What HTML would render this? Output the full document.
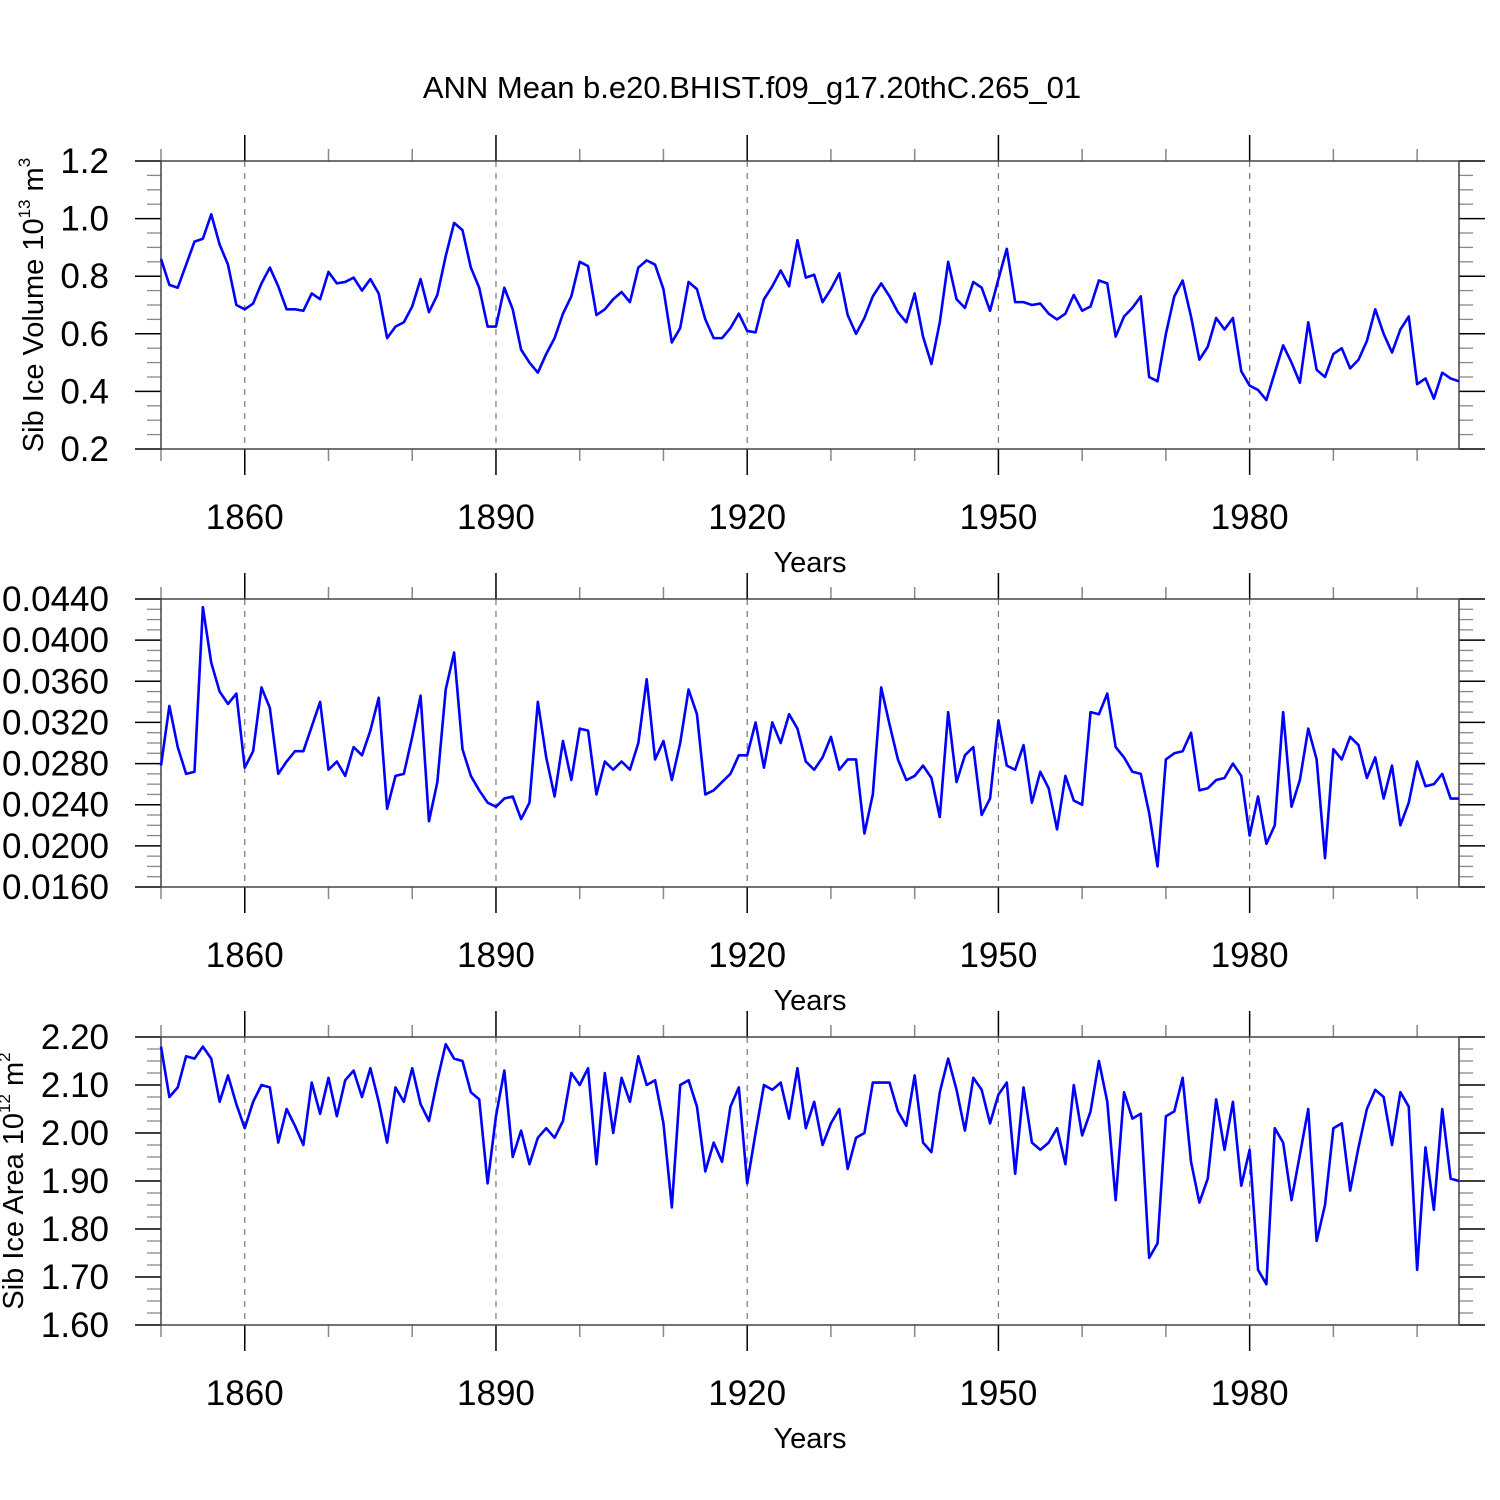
<!DOCTYPE html>
<html><head><meta charset="utf-8"><style>
html,body{margin:0;padding:0;background:#fff;}
svg{display:block;font-family:"Liberation Sans",Arial,sans-serif;}
</style></head><body>
<svg id="chart" width="1500" height="1500" viewBox="0 0 1500 1500" xmlns="http://www.w3.org/2000/svg">
<text x="752" y="98" font-size="31" text-anchor="middle">ANN Mean b.e20.BHIST.f09_g17.20thC.265_01</text>
</svg>
<script>
const years = [];
for (let y = 1850; y <= 2005; y++) years.push(y);
const volumeValues = [0.86,0.77,0.76,0.84,0.92,0.93,1.015,0.91,0.84,0.70,0.685,0.705,0.775,0.83,0.765,0.685,0.685,0.68,0.74,0.72,0.815,0.775,0.78,0.795,0.75,0.79,0.74,0.585,0.625,0.64,0.695,0.79,0.675,0.735,0.87,0.985,0.96,0.83,0.76,0.625,0.625,0.76,0.685,0.545,0.5,0.465,0.53,0.585,0.67,0.73,0.85,0.835,0.665,0.685,0.72,0.745,0.71,0.83,0.855,0.84,0.755,0.57,0.62,0.78,0.755,0.65,0.585,0.585,0.62,0.67,0.61,0.605,0.72,0.765,0.82,0.765,0.925,0.795,0.805,0.71,0.755,0.81,0.665,0.6,0.655,0.73,0.775,0.73,0.675,0.64,0.74,0.59,0.495,0.64,0.85,0.72,0.69,0.78,0.76,0.68,0.79,0.895,0.71,0.71,0.70,0.705,0.67,0.65,0.67,0.735,0.68,0.695,0.785,0.775,0.59,0.66,0.69,0.73,0.45,0.435,0.6,0.73,0.785,0.66,0.51,0.555,0.655,0.615,0.655,0.47,0.42,0.405,0.37,0.465,0.56,0.5,0.43,0.64,0.475,0.45,0.53,0.55,0.48,0.51,0.575,0.685,0.6,0.535,0.615,0.66,0.425,0.445,0.375,0.465,0.445,0.435];
const thickValues = [0.0278,0.0336,0.0296,0.0270,0.0272,0.0432,0.0378,0.0350,0.0338,0.0348,0.0276,0.0292,0.0354,0.0334,0.0270,0.0282,0.0292,0.0292,0.0316,0.0340,0.0274,0.0282,0.0268,0.0296,0.0288,0.0312,0.0344,0.0236,0.0268,0.0270,0.0306,0.0346,0.0224,0.0262,0.0352,0.0388,0.0294,0.0268,0.0254,0.0242,0.0238,0.0246,0.0248,0.0226,0.0242,0.0340,0.0286,0.0248,0.0302,0.0264,0.0314,0.0312,0.0250,0.0282,0.0274,0.0282,0.0274,0.0300,0.0362,0.0284,0.0302,0.0264,0.0300,0.0352,0.0328,0.0250,0.0254,0.0262,0.0270,0.0288,0.0288,0.0320,0.0276,0.0320,0.0300,0.0328,0.0314,0.0282,0.0274,0.0286,0.0306,0.0274,0.0284,0.0284,0.0212,0.0250,0.0354,0.0318,0.0284,0.0264,0.0268,0.0278,0.0266,0.0228,0.0330,0.0262,0.0288,0.0296,0.0230,0.0246,0.0322,0.0278,0.0274,0.0298,0.0242,0.0272,0.0256,0.0216,0.0268,0.0244,0.0240,0.0330,0.0328,0.0348,0.0296,0.0286,0.0272,0.0270,0.0232,0.0180,0.0284,0.0290,0.0292,0.0310,0.0254,0.0256,0.0264,0.0266,0.0280,0.0268,0.0210,0.0248,0.0202,0.0220,0.0330,0.0238,0.0264,0.0314,0.0284,0.0188,0.0294,0.0284,0.0306,0.0298,0.0266,0.0286,0.0246,0.0278,0.0220,0.0242,0.0282,0.0258,0.0260,0.0270,0.0246,0.0246];
const areaValues = [2.18,2.075,2.095,2.16,2.155,2.18,2.155,2.065,2.12,2.06,2.01,2.065,2.1,2.095,1.98,2.05,2.015,1.975,2.105,2.04,2.115,2.035,2.11,2.13,2.075,2.135,2.065,1.98,2.095,2.065,2.135,2.06,2.025,2.11,2.185,2.155,2.15,2.085,2.07,1.895,2.035,2.13,1.95,2.005,1.935,1.99,2.01,1.99,2.025,2.125,2.1,2.135,1.935,2.125,2.0,2.115,2.065,2.16,2.1,2.11,2.02,1.845,2.1,2.11,2.055,1.92,1.98,1.94,2.055,2.095,1.895,2.0,2.1,2.09,2.105,2.03,2.135,2.01,2.065,1.975,2.02,2.05,1.925,1.99,2.0,2.105,2.105,2.105,2.045,2.015,2.12,1.98,1.96,2.085,2.155,2.09,2.005,2.115,2.09,2.02,2.08,2.105,1.915,2.095,1.98,1.965,1.98,2.01,1.935,2.1,1.995,2.045,2.15,2.065,1.86,2.085,2.03,2.04,1.74,1.77,2.035,2.045,2.115,1.94,1.855,1.905,2.07,1.965,2.065,1.89,1.965,1.715,1.685,2.01,1.98,1.86,1.955,2.05,1.775,1.85,2.01,2.02,1.88,1.97,2.05,2.09,2.075,1.975,2.085,2.055,1.715,1.97,1.84,2.05,1.905,1.9];
const xTickLabels = [1860,1890,1920,1950,1980];
const volTicks = ["0.2","0.4","0.6","0.8","1.0","1.2"];
const thickTicks = ["0.0160","0.0200","0.0240","0.0280","0.0320","0.0360","0.0400","0.0440"];
const areaTicks = ["1.60","1.70","1.80","1.90","2.00","2.10","2.20"];

const NS = "http://www.w3.org/2000/svg";
const svg = document.getElementById('chart');
const L = 161, R = 1459, H = 288;
const xMin = 1850, xMax = 2005;
function xs(v){ return L + (v - xMin) / (xMax - xMin) * (R - L); }
function mk(tag, attrs, parent){
  const e = document.createElementNS(NS, tag);
  for (const k in attrs) e.setAttribute(k, attrs[k]);
  (parent || svg).appendChild(e);
  return e;
}
function panel(name, top, vals, ticks, minorPerMajor, ytitleParts, ytitleX){
  const g = mk('g', {});
  
  
  const yMin = parseFloat(ticks[0]), yMax = parseFloat(ticks[ticks.length-1]);
  const ys = v => top + H - (v - yMin) / (yMax - yMin) * H;
  const bot = top + H;
  xTickLabels.forEach(yr => {
    const l = mk('line', {x1: xs(yr), x2: xs(yr), y1: top, y2: bot, stroke: '#777', 'stroke-width': 1.2, 'stroke-dasharray': '6,6'}, g);
    
    
  });
  for (let yr = 1850; yr <= 2005; yr += 10) {
    const major = xTickLabels.includes(yr);
    const len = major ? 26 : 12;
    const c = major ? '#000' : '#888';
    mk('line', {x1: xs(yr), x2: xs(yr), y1: bot, y2: bot + len, stroke: c, 'stroke-width': 1.5}, g);
    mk('line', {x1: xs(yr), x2: xs(yr), y1: top, y2: top - len, stroke: c, 'stroke-width': 1.5}, g);
  }
  xTickLabels.forEach(yr => {
    const t = mk('text', {x: xs(yr), y: bot + 80, 'font-size': 35, 'text-anchor': 'middle'}, g);
    t.textContent = yr;
    
    
  });
  const xt = mk('text', {x: 810, y: bot + 123, 'font-size': 29, 'text-anchor': 'middle'}, g);
  xt.textContent = 'Years';
  
  
  const step = (yMax - yMin) / (ticks.length - 1);
  for (let i = 0; i < ticks.length; i++) {
    const v = yMin + i * step;
    const y = ys(v);
    mk('line', {x1: L - 26, x2: L, y1: y, y2: y, stroke: '#000', 'stroke-width': 1.5}, g);
    mk('line', {x1: R, x2: R + 26, y1: y, y2: y, stroke: '#000', 'stroke-width': 1.5}, g);
    const t = mk('text', {x: 109, y: y + 12, 'font-size': 35, 'text-anchor': 'end'}, g);
    t.textContent = ticks[i];
    
    
    if (i < ticks.length - 1) {
      for (let m = 1; m <= minorPerMajor; m++) {
        const ym = ys(v + step * m / (minorPerMajor + 1));
        mk('line', {x1: L - 14, x2: L, y1: ym, y2: ym, stroke: '#888', 'stroke-width': 1.3}, g);
        mk('line', {x1: R, x2: R + 14, y1: ym, y2: ym, stroke: '#888', 'stroke-width': 1.3}, g);
      }
    }
  }
  const fr = mk('rect', {x: L, y: top, width: R - L, height: H, fill: 'none', stroke: '#444', 'stroke-width': 1.5}, g);
  
  
  const pts = vals.map((v, i) => xs(years[i]).toFixed(2) + ',' + ys(v).toFixed(2)).join(' ');
  const pl = mk('polyline', {points: pts, fill: 'none', stroke: '#0000ff', 'stroke-width': 2.6, 'stroke-linejoin': 'round'}, g);
  
  
  if (ytitleParts) {
    const cy = top + H / 2;
    const t = mk('text', {x: ytitleX, y: cy, 'font-size': 29, 'text-anchor': 'middle', transform: 'rotate(-90 ' + ytitleX + ' ' + cy + ')'}, g);
    
    
    ytitleParts.forEach(p => {
      const s = mk('tspan', p.sup ? {'font-size': 17, dy: -13} : {dy: p.down ? 13 : 0}, t);
      s.textContent = p.t;
    });
  }
}
panel('ice-volume', 161, volumeValues, volTicks, 3,
  [{t:'Sib Ice Volume 10'},{t:'13',sup:true},{t:' m',down:true},{t:'3',sup:true}], 43);
panel('ice-thickness', 599, thickValues, thickTicks, 3, null, 0);
panel('ice-area', 1037, areaValues, areaTicks, 3,
  [{t:'Sib Ice Area 10'},{t:'12',sup:true},{t:' m',down:true},{t:'2',sup:true}], 23);
</script>
</body></html>
